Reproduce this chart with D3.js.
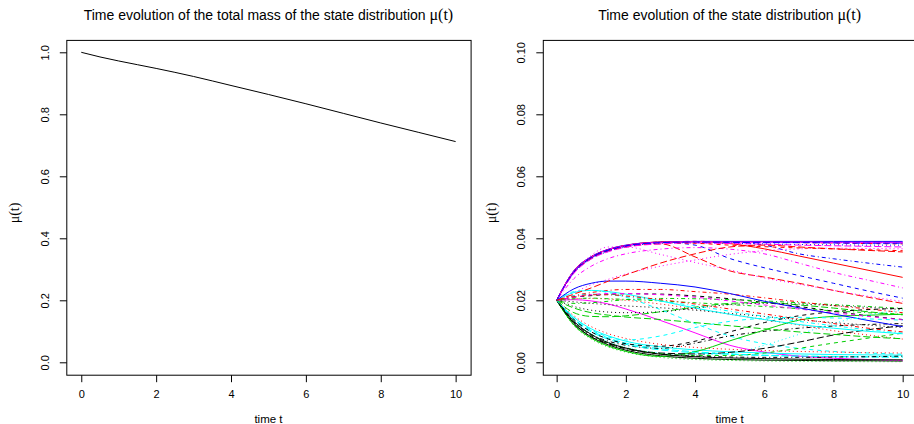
<!DOCTYPE html>
<html>
<head>
<meta charset="utf-8">
<script src="https://cdn.jsdelivr.net/npm/d3@7"></script>
<style>
  body { margin: 0; background: #fff; }
  svg { display: block; }
  text { font-family: "Liberation Sans", Arial, sans-serif; fill: #000; }
  .math { font-family: "Liberation Serif", "Times New Roman", serif; }
</style>
</head>
<body>
<div id="chart"></div>
<script>
// sample times
const times = [0, 0.5, 1, 1.5, 2, 3, 4, 5, 6, 7, 8, 9, 10];

// left panel: total mass
const totalMass = [1.0, 0.985, 0.972, 0.96, 0.948, 0.922, 0.893, 0.864, 0.834, 0.803, 0.772, 0.742, 0.712];

// right panel: one row per state (matplot column order)
const stateSeries = [
  [0.02,0.0125,0.0082,0.0056,0.0039,0.0021,0.0013,0.0009,0.0007,0.0006,0.0005,0.0005,0.0004],
  [0.02,0.0294,0.034,0.0364,0.0377,0.0388,0.039,0.0389,0.0388,0.0386,0.0385,0.0383,0.0382],
  [0.02,0.0118,0.0075,0.0049,0.0033,0.0016,0.0009,0.0006,0.0004,0.0003,0.0003,0.0002,0.0002],
  [0.02,0.0291,0.0337,0.0361,0.0375,0.0386,0.0389,0.0388,0.0378,0.035,0.0334,0.032,0.0307],
  [0.02,0.014,0.0102,0.0078,0.0062,0.0044,0.0034,0.0027,0.0023,0.002,0.0018,0.0017,0.0016],
  [0.02,0.0202,0.0198,0.0188,0.0172,0.0135,0.0095,0.0055,0.0033,0.002,0.0013,0.0009,0.0006],
  [0.02,0.021,0.0215,0.0219,0.0221,0.022,0.0214,0.0205,0.0193,0.018,0.0165,0.015,0.0138],
  [0.02,0.0205,0.0206,0.0204,0.02,0.0188,0.0172,0.0155,0.0138,0.012,0.0102,0.0088,0.0075],
  [0.02,0.019,0.0192,0.0197,0.0202,0.0206,0.0205,0.0202,0.0198,0.0192,0.0186,0.018,0.0174],
  [0.02,0.0289,0.0335,0.036,0.0374,0.0386,0.0389,0.0389,0.0389,0.0389,0.0388,0.0388,0.0388],
  [0.02,0.0145,0.0108,0.0085,0.0068,0.005,0.004,0.0034,0.003,0.0027,0.0025,0.0024,0.0023],
  [0.02,0.0293,0.0339,0.0363,0.0376,0.0387,0.039,0.0389,0.0388,0.0387,0.0386,0.0386,0.0385],
  [0.02,0.0195,0.019,0.0186,0.0182,0.0176,0.0168,0.0158,0.0148,0.0138,0.0128,0.012,0.0112],
  [0.02,0.0215,0.0225,0.0232,0.0235,0.0235,0.0228,0.022,0.0208,0.0195,0.0183,0.0172,0.016],
  [0.02,0.016,0.0148,0.0147,0.015,0.0163,0.0178,0.019,0.0193,0.0185,0.0175,0.0163,0.0153],
  [0.02,0.0296,0.0341,0.0365,0.0378,0.0388,0.039,0.039,0.039,0.039,0.039,0.039,0.039],
  [0.02,0.0228,0.0232,0.0225,0.021,0.017,0.0125,0.0085,0.006,0.0045,0.0035,0.003,0.0026],
  [0.02,0.0225,0.025,0.0268,0.0285,0.031,0.033,0.0348,0.036,0.0366,0.0368,0.0367,0.0366],
  [0.02,0.013,0.009,0.0068,0.0055,0.0045,0.0062,0.0085,0.01,0.011,0.0117,0.0122,0.0125],
  [0.02,0.029,0.0336,0.036,0.0372,0.0382,0.034,0.0295,0.0275,0.0255,0.0232,0.021,0.019],
  [0.02,0.012,0.0078,0.0052,0.0035,0.0019,0.0034,0.0069,0.0104,0.0136,0.0148,0.0152,0.0155],
  [0.02,0.0292,0.0338,0.0362,0.0376,0.0387,0.0378,0.0335,0.0305,0.028,0.0255,0.023,0.0207],
  [0.02,0.0135,0.0092,0.0065,0.0048,0.003,0.0025,0.0028,0.0055,0.009,0.0125,0.0152,0.0168],
  [0.02,0.027,0.031,0.0335,0.035,0.0365,0.037,0.0365,0.035,0.032,0.029,0.0265,0.024],
  [0.02,0.0125,0.0082,0.006,0.0045,0.003,0.0027,0.0032,0.0045,0.0065,0.0088,0.0105,0.0118],
  [0.02,0.0295,0.034,0.0364,0.0377,0.0388,0.0389,0.0383,0.0366,0.0343,0.032,0.0297,0.0274],
  [0.02,0.013,0.0088,0.0062,0.0046,0.0028,0.0022,0.0022,0.003,0.0045,0.0062,0.0078,0.0094],
  [0.02,0.0288,0.0334,0.0358,0.0372,0.0384,0.0386,0.0384,0.0382,0.038,0.0379,0.0378,0.0378],
  [0.02,0.0215,0.022,0.0218,0.0212,0.0198,0.0182,0.0165,0.0148,0.0132,0.0118,0.0105,0.0094],
  [0.02,0.0287,0.0333,0.0357,0.0371,0.0382,0.0385,0.0383,0.0381,0.0378,0.0376,0.0374,0.0372],
  [0.02,0.0132,0.009,0.0063,0.0046,0.0026,0.0018,0.0014,0.0012,0.001,0.0009,0.0008,0.0008],
  [0.02,0.0294,0.034,0.0364,0.0377,0.0386,0.0384,0.0378,0.0373,0.0369,0.0366,0.0363,0.036],
  [0.02,0.0122,0.008,0.0055,0.0038,0.002,0.0012,0.0009,0.0008,0.0007,0.0007,0.0007,0.0007],
  [0.02,0.0292,0.0338,0.0362,0.0376,0.0387,0.0389,0.0388,0.0388,0.0387,0.0386,0.0386,0.0385],
  [0.02,0.0138,0.0098,0.0074,0.0058,0.004,0.0031,0.0026,0.0022,0.002,0.0019,0.0018,0.0018],
  [0.02,0.0295,0.034,0.0364,0.0377,0.0387,0.0389,0.0388,0.0388,0.0388,0.0387,0.0387,0.0387],
  [0.02,0.0138,0.0098,0.0075,0.006,0.0052,0.0068,0.0098,0.0128,0.015,0.0163,0.017,0.0174],
  [0.02,0.015,0.0115,0.0092,0.0077,0.0058,0.0048,0.0042,0.0038,0.0035,0.0033,0.0031,0.003],
  [0.02,0.0205,0.0207,0.0205,0.0203,0.0198,0.0192,0.0186,0.018,0.0173,0.0166,0.016,0.0155],
  [0.02,0.0293,0.0339,0.0363,0.0376,0.0386,0.0388,0.0387,0.0386,0.0386,0.0385,0.0384,0.0384],
  [0.02,0.0225,0.0232,0.0228,0.022,0.0198,0.0175,0.0155,0.0138,0.0122,0.011,0.01,0.0092],
  [0.02,0.021,0.0218,0.0222,0.0222,0.0218,0.021,0.0198,0.0185,0.0172,0.016,0.0148,0.0137],
  [0.02,0.018,0.0168,0.0162,0.016,0.0163,0.0175,0.0186,0.019,0.0188,0.0183,0.0177,0.017],
  [0.02,0.0212,0.0218,0.0218,0.0214,0.0202,0.0188,0.0172,0.0156,0.014,0.0125,0.011,0.0098],
  [0.02,0.0175,0.016,0.0152,0.0146,0.0138,0.0128,0.0118,0.0108,0.0098,0.009,0.0082,0.0076],
  [0.02,0.0237,0.0255,0.0262,0.0262,0.0255,0.0243,0.0222,0.0197,0.0176,0.0156,0.0135,0.0115],
  [0.02,0.0145,0.0105,0.0082,0.0072,0.0085,0.0112,0.0132,0.0142,0.0145,0.0143,0.014,0.0136],
  [0.02,0.029,0.0345,0.0372,0.0372,0.0348,0.0322,0.0298,0.0272,0.0252,0.0232,0.0213,0.0196],
  [0.02,0.0128,0.0086,0.006,0.0043,0.0027,0.002,0.0017,0.0016,0.0016,0.0017,0.0018,0.002],
  [0.02,0.022,0.024,0.0262,0.0282,0.032,0.035,0.0372,0.0378,0.0372,0.0366,0.0361,0.0356]
];

// R palette 1:6 and lty 1:5, recycled like matplot
const lineColors = ['#000000', '#FF0000', '#00CD00', '#0000FF', '#00FFFF', '#FF00FF'];
const lineTypes = [null, '4,4', '1,3', '1,3,4,3', '7,3'];

const xTicks = [0, 2, 4, 6, 8, 10];
const yTicksLeft = [0, 0.2, 0.4, 0.6, 0.8, 1.0];
const yTicksRight = [0, 0.02, 0.04, 0.06, 0.08, 0.10];

const W = 914, H = 424;
const plotTop = 39.9, plotBottom = 374.7;

const svg = d3.select('#chart').append('svg')
  .attr('width', W)
  .attr('height', H);

// one R-style panel: box, ticks, labels, title
function panel(opts) {
  const x = d3.scaleLinear().domain([-0.4, 10.4]).range([opts.left, opts.right]);
  const y = d3.scaleLinear().domain(opts.yDomain).range([plotBottom, plotTop]);
  const g = svg.append('g');

  const clipId = 'clip' + opts.id;
  svg.append('clipPath').attr('id', clipId)
    .append('rect')
    .attr('x', opts.left).attr('y', plotTop)
    .attr('width', opts.right - opts.left).attr('height', plotBottom - plotTop);

  const plot = g.append('g').attr('clip-path', 'url(#' + clipId + ')');
  opts.draw(plot, x, y);

  g.append('rect')
    .attr('x', opts.left + 0.5).attr('y', plotTop + 0.5)
    .attr('width', opts.right - opts.left).attr('height', plotBottom - plotTop)
    .attr('fill', 'none').attr('stroke', '#000').attr('stroke-width', 1);

  // x axis
  const xAxis = g.append('g')
    .attr('transform', 'translate(0,' + (plotBottom + 0.5) + ')')
    .call(d3.axisBottom(x).tickValues(xTicks).tickSize(7).tickPadding(8).tickFormat(d3.format('d')));
  xAxis.select('.domain').remove();
  xAxis.selectAll('text').attr('font-size', 11).attr('font-family', 'Liberation Sans, Arial, sans-serif');

  // y axis with rotated labels
  const yAxis = g.append('g')
    .attr('transform', 'translate(' + (opts.left + 0.5) + ',0)')
    .call(d3.axisLeft(y).tickValues(opts.yTicks).tickSize(7).tickFormat(opts.fmt));
  yAxis.select('.domain').remove();
  yAxis.selectAll('.tick text')
    .attr('font-size', 11)
    .attr('font-family', 'Liberation Sans, Arial, sans-serif')
    .attr('x', null).attr('dy', null)
    .attr('text-anchor', 'middle')
    .attr('transform', 'translate(-18,0) rotate(-90)');

  const cx = (opts.left + opts.right) / 2;

  const title = g.append('text')
    .attr('x', cx).attr('y', 19.5)
    .attr('text-anchor', 'middle')
    .attr('font-size', 14);
  title.append('tspan').text(opts.title);
  title.append('tspan').attr('class', 'math').attr('font-size', 16).text('μ(t)');

  g.append('text')
    .attr('x', cx).attr('y', 423)
    .attr('text-anchor', 'middle')
    .attr('font-size', 11.5)
    .text('time t');

  g.append('text')
    .attr('class', 'math')
    .attr('transform', 'translate(' + (opts.left - 47) + ',' + 213 + ') rotate(-90)')
    .attr('text-anchor', 'middle')
    .attr('font-size', 14)
    .text('μ(t)');
}

panel({
  id: 'L', left: 66.3, right: 470.6,
  yDomain: [-0.04, 1.04], yTicks: yTicksLeft, fmt: d3.format('.1f'),
  title: 'Time evolution of the total mass of the state distribution ',
  draw: (plot, x, y) => {
    const line = d3.line().x((d, i) => x(times[i])).y(d => y(d)).curve(d3.curveMonotoneX);
    plot.append('path')
      .datum(totalMass)
      .attr('d', line)
      .attr('fill', 'none').attr('stroke', '#000').attr('stroke-width', 1);
  }
});

panel({
  id: 'R', left: 542.8, right: 916.5,
  yDomain: [-0.004, 0.104], yTicks: yTicksRight, fmt: d3.format('.2f'),
  title: 'Time evolution of the state distribution ',
  draw: (plot, x, y) => {
    const line = d3.line().x((d, i) => x(times[i])).y(d => y(d)).curve(d3.curveMonotoneX);
    plot.selectAll('path.state')
      .data(stateSeries)
      .enter().append('path')
      .attr('class', 'state')
      .attr('d', line)
      .attr('fill', 'none')
      .attr('stroke', (d, i) => lineColors[i % 6])
      .attr('stroke-dasharray', (d, i) => lineTypes[i % 5])
      .attr('stroke-width', 1);
  }
});
</script>
</body>
</html>
